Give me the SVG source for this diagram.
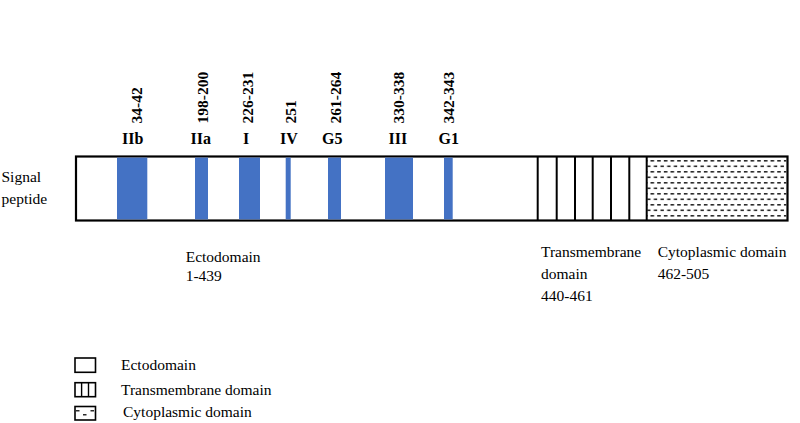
<svg xmlns="http://www.w3.org/2000/svg" width="800" height="423" viewBox="0 0 800 423">
<style>
  text { font-family: "Liberation Serif", "Times New Roman", serif; fill: #000; }
  .lbl { font-size: 15.5px; }
  .num { font-size: 15.5px; font-weight: bold; }
  .rom { font-size: 16px; font-weight: bold; text-anchor: middle; }
  .box { fill: #fff; stroke: #000; stroke-width: 2.2; }
  .seg { fill: #4472C4; stroke: none; }
  .tm { stroke: #000; stroke-width: 2; }
  .lg { fill: #fff; stroke: #000; stroke-width: 1.6; }
  .lgl { stroke: #000; stroke-width: 1.4; }
  .dash { fill: #2a2a2a; }
</style>
<defs>
  <pattern id="dashes" patternUnits="userSpaceOnUse" x="650.5" y="160" width="6.67" height="11">
    <rect class="dash" x="0" y="0" width="3.6" height="1.6"/>
    <rect class="dash" x="3.33" y="5.5" width="3.6" height="1.6"/>
  </pattern>
</defs>
<rect width="800" height="423" fill="#fff"/>

<g id="protein">
  <rect class="box" x="76" y="156.5" width="711.5" height="64"/>
  <rect x="647" y="157.6" width="139.4" height="61.8" fill="url(#dashes)"/>
  <rect class="seg" x="117" y="157.6" width="30.3" height="61.8"/>
  <rect class="seg" x="195" y="157.6" width="13" height="61.8"/>
  <rect class="seg" x="239" y="157.6" width="21" height="61.8"/>
  <rect class="seg" x="285.7" y="157.6" width="5" height="61.8"/>
  <rect class="seg" x="328" y="157.6" width="13" height="61.8"/>
  <rect class="seg" x="385" y="157.6" width="28" height="61.8"/>
  <rect class="seg" x="444" y="157.6" width="8.7" height="61.8"/>
  <g id="transmembrane">
    <line class="tm" x1="537.7" y1="156.5" x2="537.7" y2="220.5"/>
    <line class="tm" x1="556.7" y1="156.5" x2="556.7" y2="220.5"/>
    <line class="tm" x1="575" y1="156.5" x2="575" y2="220.5"/>
    <line class="tm" x1="592.7" y1="156.5" x2="592.7" y2="220.5"/>
    <line class="tm" x1="611" y1="156.5" x2="611" y2="220.5"/>
    <line class="tm" x1="629.3" y1="156.5" x2="629.3" y2="220.5"/>
    <line class="tm" x1="646.7" y1="156.5" x2="646.7" y2="220.5"/>
  </g>
</g>

<g id="site-labels">
  <text class="num" transform="translate(141.5,123.5) rotate(-90)">34-42</text>
  <text class="num" transform="translate(208,123.5) rotate(-90)">198-200</text>
  <text class="num" transform="translate(253,123.5) rotate(-90)">226-231</text>
  <text class="num" transform="translate(296,123.5) rotate(-90)">251</text>
  <text class="num" transform="translate(340.5,123.5) rotate(-90)">261-264</text>
  <text class="num" transform="translate(404,123.5) rotate(-90)">330-338</text>
  <text class="num" transform="translate(454,123.5) rotate(-90)">342-343</text>
  <text class="rom" x="132.8" y="143.5">IIb</text>
  <text class="rom" x="200.7" y="143.5">IIa</text>
  <text class="rom" x="246" y="143.5">I</text>
  <text class="rom" x="288.8" y="143.5">IV</text>
  <text class="rom" x="332.2" y="143.5">G5</text>
  <text class="rom" x="397.8" y="143.5">III</text>
  <text class="rom" x="448.8" y="143.5">G1</text>
</g>

<g id="signal-peptide">
  <text class="lbl" x="1.5" y="181.5">Signal</text>
  <text class="lbl" x="1.5" y="204.3">peptide</text>
</g>

<g id="ectodomain-label">
  <text class="lbl" x="185.7" y="261.7">Ectodomain</text>
  <text class="lbl" x="185.7" y="281">1-439</text>
</g>

<g id="transmembrane-label">
  <text class="lbl" x="541" y="256.7">Transmembrane</text>
  <text class="lbl" x="541" y="278.7">domain</text>
  <text class="lbl" x="541" y="301">440-461</text>
</g>

<g id="cytoplasmic-label">
  <text class="lbl" x="657.7" y="256.7">Cytoplasmic domain</text>
  <text class="lbl" x="657.7" y="278.7">462-505</text>
</g>

<g id="legend">
  <g id="legend-ecto">
    <rect class="lg" x="75" y="358" width="20.5" height="14.3"/>
    <text class="lbl" x="121" y="370">Ectodomain</text>
  </g>
  <g id="legend-tm">
    <rect class="lg" x="75" y="382.7" width="20.5" height="14"/>
    <line class="lgl" x1="81.6" y1="382.7" x2="81.6" y2="396.7"/>
    <line class="lgl" x1="88.5" y1="382.7" x2="88.5" y2="396.7"/>
    <text class="lbl" x="121" y="394.5">Transmembrane domain</text>
  </g>
  <g id="legend-cyto">
    <rect class="lg" x="75" y="406.5" width="20.5" height="13.5"/>
    <rect class="dash" x="76" y="410" width="3.5" height="1.5"/>
    <rect class="dash" x="90.5" y="410" width="3.5" height="1.5"/>
    <rect class="dash" x="83" y="414" width="3.5" height="1.5"/>
    <text class="lbl" x="123" y="417">Cytoplasmic domain</text>
  </g>
</g>
</svg>
